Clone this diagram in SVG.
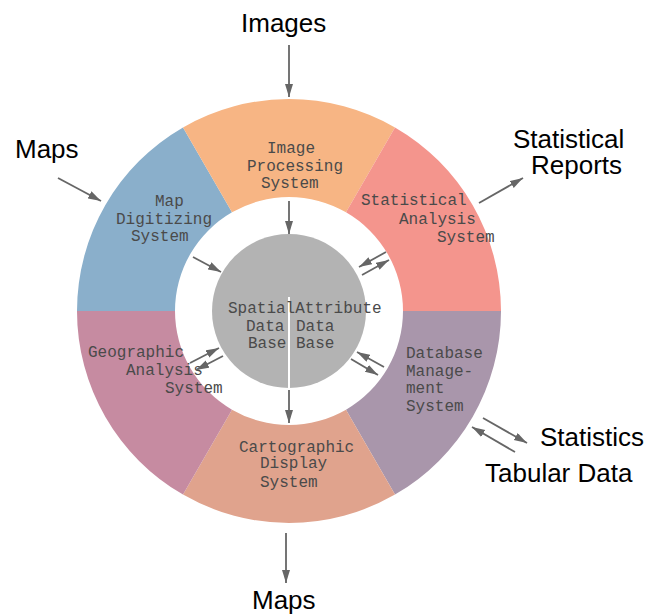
<svg xmlns="http://www.w3.org/2000/svg" width="646" height="614" viewBox="0 0 646 614">
<style>
.mono{font-family:"Liberation Mono","DejaVu Sans Mono",monospace;font-size:16px;fill:#4a4a4a}
.sans{font-family:"Liberation Sans",Arial,sans-serif;font-size:26px;fill:#000}
.arr{stroke:#666;stroke-width:1.8;fill:none;marker-end:url(#ah)}
</style>
<defs>
<marker id="ah" markerUnits="userSpaceOnUse" markerWidth="14" markerHeight="9" refX="13" refY="4" orient="auto">
<path d="M0,0 L13,4 L0,8 Z" fill="#666"/>
</marker>
</defs>
<rect width="646" height="614" fill="#fff"/>
<g id="map-digitizing">
<path d="M77,311 A212,212 0 0 1 183,127.4 L232,212.3 A114,114 0 0 0 175,311 Z" fill="#8AAFCB"/>
<text class="mono" x="155" y="206">Map</text>
<text class="mono" x="116" y="224">Digitizing</text>
<text class="mono" x="131" y="241">System</text>
</g>
<g id="image-processing">
<path d="M183,127.4 A212,212 0 0 1 395,127.4 L346,212.3 A114,114 0 0 0 232,212.3 Z" fill="#F7B584"/>
<text class="mono" x="267" y="153">Image</text>
<text class="mono" x="247" y="171">Processing</text>
<text class="mono" x="261" y="188">System</text>
</g>
<g id="statistical-analysis">
<path d="M395,127.4 A212,212 0 0 1 501,311 L403,311 A114,114 0 0 0 346,212.3 Z" fill="#F4958D"/>
<text class="mono" x="361" y="205">Statistical</text>
<text class="mono" x="399" y="224">Analysis</text>
<text class="mono" x="437" y="242">System</text>
</g>
<g id="database-management">
<path d="M501,311 A212,212 0 0 1 395,494.6 L346,409.7 A114,114 0 0 0 403,311 Z" fill="#A996AB"/>
<text class="mono" x="406" y="358">Database</text>
<text class="mono" x="406" y="376">Manage-</text>
<text class="mono" x="406" y="393">ment</text>
<text class="mono" x="406" y="411">System</text>
</g>
<g id="cartographic-display">
<path d="M395,494.6 A212,212 0 0 1 183,494.6 L232,409.7 A114,114 0 0 0 346,409.7 Z" fill="#E0A38D"/>
<text class="mono" x="239" y="452">Cartographic</text>
<text class="mono" x="260" y="468">Display</text>
<text class="mono" x="260" y="487">System</text>
</g>
<g id="geographic-analysis">
<path d="M183,494.6 A212,212 0 0 1 77,311 L175,311 A114,114 0 0 0 232,409.7 Z" fill="#C68BA1"/>
<text class="mono" x="88" y="357">Geographic</text>
<text class="mono" x="126" y="375">Analysis</text>
<text class="mono" x="165" y="393">System</text>
</g>
<g id="database-core">
<circle cx="289" cy="311" r="77" fill="#B3B3B3"/>
<line x1="289" y1="297" x2="289" y2="388" stroke="#fff" stroke-width="2"/>
<text class="mono" x="228" y="313">SpatialAttribute</text>
<text class="mono" x="246" y="331">Data</text>
<text class="mono" x="296" y="331">Data</text>
<text class="mono" x="248" y="348">Base</text>
<text class="mono" x="296" y="348">Base</text>
</g>
<g id="io-labels">
<text class="sans" x="241" y="32">Images</text>
<text class="sans" x="15" y="158">Maps</text>
<text class="sans" x="513" y="148">Statistical</text>
<text class="sans" x="531" y="174">Reports</text>
<text class="sans" x="540" y="446">Statistics</text>
<text class="sans" x="485" y="482">Tabular Data</text>
<text class="sans" x="252" y="609">Maps</text>
</g>
<g id="connectors">
<line class="arr" x1="289" y1="45" x2="289" y2="97"/>
<line class="arr" x1="58" y1="178" x2="101" y2="201"/>
<line class="arr" x1="479" y1="203" x2="523" y2="178"/>
<line class="arr" x1="289" y1="201" x2="289" y2="234"/>
<line class="arr" x1="193" y1="257" x2="221" y2="272"/>
<line class="arr" x1="386" y1="252" x2="359" y2="267"/>
<line class="arr" x1="362" y1="275" x2="389" y2="260"/>
<line class="arr" x1="190" y1="363" x2="219" y2="348"/>
<line class="arr" x1="223" y1="356" x2="196" y2="370"/>
<line class="arr" x1="384" y1="367" x2="357" y2="352"/>
<line class="arr" x1="351" y1="359" x2="378" y2="375"/>
<line class="arr" x1="289" y1="390" x2="289" y2="423"/>
<line class="arr" x1="286" y1="533" x2="286" y2="583"/>
<line class="arr" x1="483" y1="418" x2="527" y2="443"/>
<line class="arr" x1="515" y1="452" x2="472" y2="427"/>
</g>
</svg>
